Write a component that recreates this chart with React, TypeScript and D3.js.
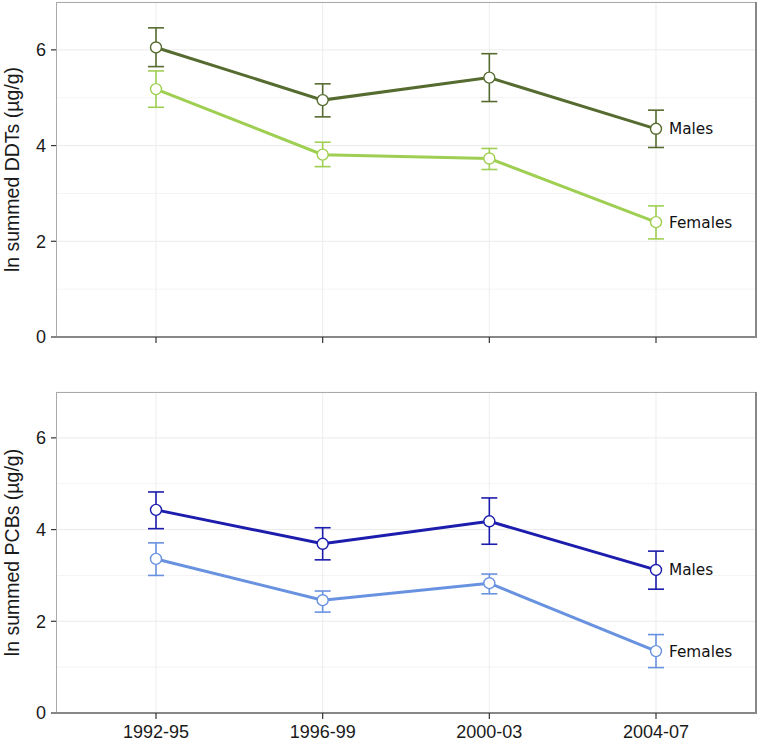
import React from "react";
import * as d3 from "d3";

const periods = ["1992-95", "1996-99", "2000-03", "2004-07"];
const yTicks = [0, 2, 4, 6];
const yMinor = [1, 3, 5, 7];

const ddtMales = [6.05, 4.95, 5.42, 4.35];
const ddtMalesLo = [5.65, 4.6, 4.92, 3.96];
const ddtMalesHi = [6.46, 5.29, 5.92, 4.74];
const ddtFemales = [5.18, 3.81, 3.73, 2.4];
const ddtFemalesLo = [4.8, 3.56, 3.5, 2.05];
const ddtFemalesHi = [5.56, 4.07, 3.94, 2.74];

const pcbMales = [4.43, 3.69, 4.18, 3.12];
const pcbMalesLo = [4.02, 3.34, 3.68, 2.7];
const pcbMalesHi = [4.82, 4.04, 4.69, 3.53];
const pcbFemales = [3.36, 2.46, 2.83, 1.35];
const pcbFemalesLo = [3.0, 2.2, 2.6, 0.99];
const pcbFemalesHi = [3.71, 2.66, 3.03, 1.71];

type Series = { name: string; v: number[]; lo: number[]; hi: number[]; color: string };

const W = 760;
const H = 740;
const LEFT = 56;
const RIGHT = 756;

const x = d3.scalePoint<string>().domain(periods).range([LEFT, RIGHT]).padding(0.6);

function Panel({ top, bottom, title, series, showLabels }: { top: number; bottom: number; title: string; series: Series[]; showLabels: boolean }) {
  const y = d3.scaleLinear().domain([0, 7]).range([bottom, top]);
  const line = d3.line<number>().x((_, i) => x(periods[i])!).y((d) => y(d));
  const fontAxis = "'Liberation Sans', Arial, sans-serif";
  return (
    <g>
      <rect x={LEFT} y={top} width={RIGHT - LEFT} height={bottom - top} fill="white" />
      {yMinor.map((t) => (
        <line key={"mn" + t} x1={LEFT} x2={RIGHT} y1={y(t)} y2={y(t)} stroke="#f4f4f4" strokeWidth={1} />
      ))}
      {yTicks.map((t) => (
        <line key={"mj" + t} x1={LEFT} x2={RIGHT} y1={y(t)} y2={y(t)} stroke="#ebebeb" strokeWidth={1} />
      ))}
      {periods.map((p) => (
        <line key={"vx" + p} x1={x(p)} x2={x(p)} y1={top} y2={bottom} stroke="#ededed" strokeWidth={1} />
      ))}
      <line x1={LEFT} x2={RIGHT} y1={top + 0.5} y2={top + 0.5} stroke="#aaa" strokeWidth={1} />
      <line x1={LEFT + 0.5} x2={LEFT + 0.5} y1={top} y2={bottom} stroke="#aaa" strokeWidth={1} />
      <line x1={RIGHT} x2={RIGHT} y1={top} y2={bottom} stroke="#888" strokeWidth={2} />
      <line x1={LEFT} x2={RIGHT + 1} y1={bottom} y2={bottom} stroke="#888" strokeWidth={2} />
      {yTicks.map((t) => (
        <g key={"yt" + t}>
          <line x1={LEFT - 5} x2={LEFT} y1={y(t)} y2={y(t)} stroke="#333" strokeWidth={1.2} />
          <text x={LEFT - 10} y={y(t)} dy="0.36em" textAnchor="end" fontFamily={fontAxis} fontSize={18} fill="#1a1a1a">
            {t}
          </text>
        </g>
      ))}
      {periods.map((p) => (
        <g key={"xt" + p}>
          <line x1={x(p)} x2={x(p)} y1={bottom} y2={bottom + 6} stroke="#333" strokeWidth={1.2} />
          {showLabels && (
            <text x={x(p)} y={bottom + 24.5} textAnchor="middle" fontFamily={fontAxis} fontSize={18} fill="#1a1a1a">
              {p}
            </text>
          )}
        </g>
      ))}
      <text
        transform={`translate(19,${(top + bottom) / 2}) rotate(-90)`}
        textAnchor="middle"
        fontFamily={fontAxis}
        fontSize={19.5}
        fill="#1a1a1a"
      >
        {title}
      </text>
      {series.map((s) => (
        <g key={s.name}>
          <path d={line(s.v)!} fill="none" stroke={s.color} strokeWidth={3} />
          {s.v.map((v, i) => {
            const cx = x(periods[i])!;
            return (
              <g key={i}>
                <line x1={cx} x2={cx} y1={y(s.lo[i])} y2={y(s.hi[i])} stroke={s.color} strokeWidth={1.6} />
                <line x1={cx - 8} x2={cx + 8} y1={y(s.lo[i])} y2={y(s.lo[i])} stroke={s.color} strokeWidth={1.6} />
                <line x1={cx - 8} x2={cx + 8} y1={y(s.hi[i])} y2={y(s.hi[i])} stroke={s.color} strokeWidth={1.6} />
                <circle cx={cx} cy={y(v)} r={5.5} fill="white" stroke={s.color} strokeWidth={1.4} />
              </g>
            );
          })}
          <text
            x={x(periods[3])! + 13}
            y={y(s.v[3])}
            dy="0.36em"
            fontFamily="'DejaVu Sans', sans-serif"
            fontSize={15.3}
            fill="#111"
          >
            {s.name}
          </text>
        </g>
      ))}
    </g>
  );
}

export default function App() {
  const ddt: Series[] = [
    { name: "Males", v: ddtMales, lo: ddtMalesLo, hi: ddtMalesHi, color: "#566b2f" },
    { name: "Females", v: ddtFemales, lo: ddtFemalesLo, hi: ddtFemalesHi, color: "#9fcf52" },
  ];
  const pcb: Series[] = [
    { name: "Males", v: pcbMales, lo: pcbMalesLo, hi: pcbMalesHi, color: "#1c1cad" },
    { name: "Females", v: pcbFemales, lo: pcbFemalesLo, hi: pcbFemalesHi, color: "#6892e0" },
  ];
  return (
    <svg width={W} height={H} style={{ position: "absolute", left: 0, top: 0, background: "white" }}>
      <rect width={W} height={H} fill="white" />
      <Panel top={2} bottom={337} title="ln summed DDTs (µg/g)" series={ddt} showLabels={false} />
      <Panel top={392} bottom={713} title="ln summed PCBs (µg/g)" series={pcb} showLabels={true} />
    </svg>
  );
}
